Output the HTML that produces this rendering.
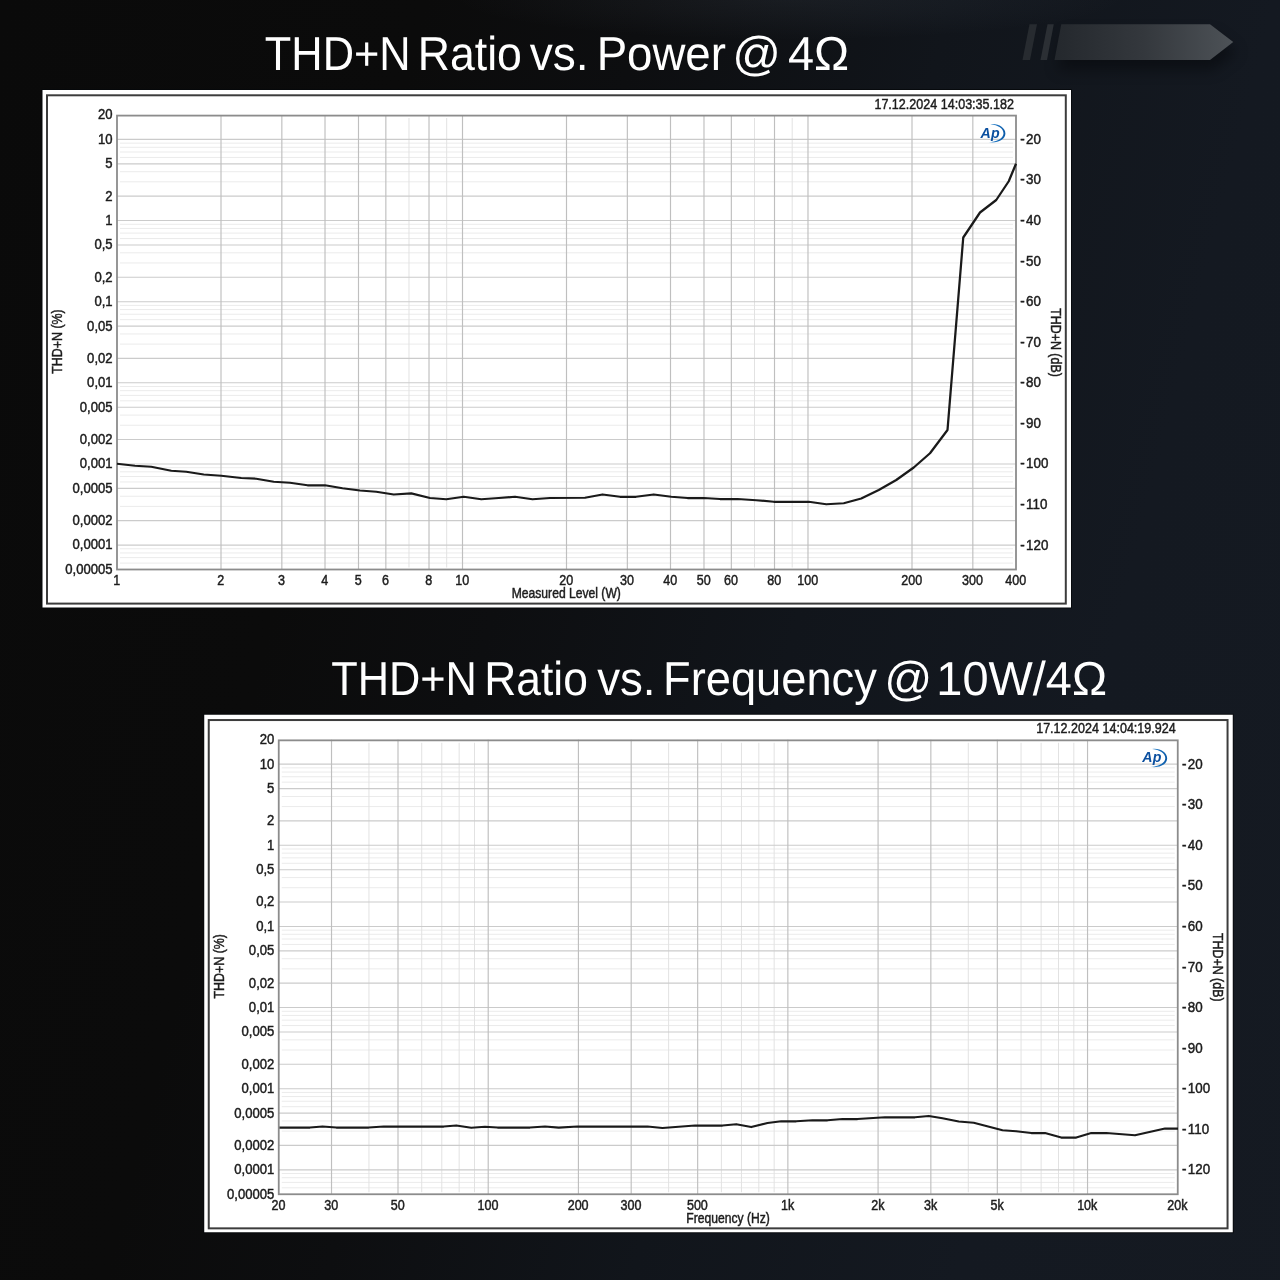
<!DOCTYPE html>
<html lang="en">
<head>
<meta charset="utf-8">
<title>THD+N measurements</title>
<style>
html,body{margin:0;padding:0;background:#0b0b0c;}
body{width:1280px;height:1280px;overflow:hidden;font-family:"Liberation Sans", sans-serif;}
svg{display:block;}
</style>
</head>
<body>
<svg width="1280" height="1280" viewBox="0 0 1280 1280">
<defs>
<linearGradient id="bg" gradientUnits="userSpaceOnUse" x1="0" y1="0" x2="1600" y2="400">
<stop offset="0" stop-color="#0a0a0a"/><stop offset="0.25" stop-color="#0b0b0b"/><stop offset="0.38" stop-color="#0d0e10"/><stop offset="0.56" stop-color="#11151b"/><stop offset="0.75" stop-color="#141921"/><stop offset="1" stop-color="#151a22"/>
</linearGradient>
<linearGradient id="ar" x1="0" y1="0" x2="1" y2="0">
<stop offset="0" stop-color="#24282d"/><stop offset="0.5" stop-color="#34383d"/><stop offset="1" stop-color="#4d5257"/>
</linearGradient>
<linearGradient id="apg" gradientUnits="userSpaceOnUse" x1="988" y1="0" x2="1006" y2="0"><stop offset="0" stop-color="#9ccbee"/><stop offset="0.35" stop-color="#1f78c4"/><stop offset="1" stop-color="#0a58a6"/></linearGradient>
<radialGradient id="glow" cx="0.5" cy="0.5" r="0.5"><stop offset="0" stop-color="#a0b2ca" stop-opacity="0.075"/><stop offset="0.5" stop-color="#a0b2ca" stop-opacity="0.04"/><stop offset="1" stop-color="#a0b2ca" stop-opacity="0"/></radialGradient>
<filter id="sh" color-interpolation-filters="sRGB" filterUnits="userSpaceOnUse" x="980" y="0" width="300" height="130"><feGaussianBlur stdDeviation="7"/></filter>
</defs>
<rect width="1280" height="1280" fill="url(#bg)"/>
<ellipse cx="790" cy="-4" rx="340" ry="44" fill="url(#glow)"/>
<path d="M1054.5 62L1061.25 26H1210L1233.5 44L1210 62Z" fill="#06080b" opacity="0.55" filter="url(#sh)" transform="translate(3 8)"/>
<path d="M1022.5 60L1029.5 24.25H1037L1030 60Z" fill="#272b30"/>
<path d="M1040.5 60L1047.5 24.25H1053.75L1047 60Z" fill="#2b2f34"/>
<path d="M1054.5 60L1061.25 24.25H1210L1233.25 42L1210 60Z" fill="url(#ar)"/>
<g font-family='"Liberation Sans", sans-serif' fill="#ffffff" text-rendering="geometricPrecision" font-size="47.7">
<text y="69.75"><tspan x="264.78" textLength="145.93" lengthAdjust="spacingAndGlyphs">THD+N</tspan> <tspan x="417.78" textLength="104.12" lengthAdjust="spacingAndGlyphs">Ratio</tspan> <tspan x="529.79" textLength="58.84" lengthAdjust="spacingAndGlyphs">vs.</tspan> <tspan x="596.64" textLength="129.22" lengthAdjust="spacingAndGlyphs">Power</tspan> <tspan x="732.28" textLength="48.72" lengthAdjust="spacingAndGlyphs">@</tspan> <tspan x="787.94" textLength="61.11" lengthAdjust="spacingAndGlyphs">4Ω</tspan></text>
<text y="694.75"><tspan x="331.18" textLength="145.75" lengthAdjust="spacingAndGlyphs">THD+N</tspan> <tspan x="484.23" textLength="103.65" lengthAdjust="spacingAndGlyphs">Ratio</tspan> <tspan x="597.17" textLength="58.36" lengthAdjust="spacingAndGlyphs">vs.</tspan> <tspan x="663.04" textLength="213.76" lengthAdjust="spacingAndGlyphs">Frequency</tspan> <tspan x="884.35" textLength="48.05" lengthAdjust="spacingAndGlyphs">@</tspan> <tspan x="936.29" textLength="170.78" lengthAdjust="spacingAndGlyphs">10W/4Ω</tspan></text>
</g>
<g transform="translate(0 0)">
<rect x="41.5" y="89" width="1030.5" height="519.5" fill="#05070a" opacity="0.8"/>
<rect x="42.5" y="90" width="1028.5" height="517.5" fill="#ffffff"/>
<rect x="47" y="95.3" width="1018.8" height="508.3" fill="none" stroke="#3c3c3c" stroke-width="2"/>
<path d="M120 563.08H1013M120 557.64H1013M120 552.94H1013M120 548.79H1013M120 506.37H1013M120 496.23H1013M120 481.95H1013M120 476.51H1013M120 471.81H1013M120 467.66H1013M120 425.24H1013M120 415.1H1013M120 400.81H1013M120 395.38H1013M120 390.68H1013M120 386.53H1013M120 344.11H1013M120 333.97H1013M120 319.68H1013M120 314.25H1013M120 309.55H1013M120 305.4H1013M120 262.98H1013M120 252.84H1013M120 238.55H1013M120 233.12H1013M120 228.42H1013M120 224.27H1013M120 181.84H1013M120 171.71H1013M120 157.42H1013M120 151.99H1013M120 147.29H1013M120 143.14H1013" stroke="#ebebeb" stroke-width="1" fill="none"/>
<path d="M408.98 118V567.5M446.69 118V567.5M754.47 118V567.5M792.18 118V567.5" stroke="#e2e2e2" stroke-width="1" fill="none"/>
<path d="M117 545.08H1016M117 520.65H1016M117 488.37H1016M117 463.95H1016M117 439.52H1016M117 407.24H1016M117 382.82H1016M117 358.39H1016M117 326.11H1016M117 301.68H1016M117 277.26H1016M117 244.98H1016M117 220.55H1016M117 196.13H1016M117 163.85H1016M117 139.42H1016" stroke="#cbcbcb" stroke-width="1.1" fill="none"/>
<path d="M221 115V569.5M281.84 115V569.5M325.01 115V569.5M358.49 115V569.5M385.85 115V569.5M429.01 115V569.5M462.5 115V569.5M566.5 115V569.5M627.34 115V569.5M670.5 115V569.5M703.99 115V569.5M731.34 115V569.5M774.51 115V569.5M807.99 115V569.5M912 115V569.5M972.83 115V569.5" stroke="#bfbfbf" stroke-width="1.15" fill="none"/>
<rect x="117" y="115.6" width="899" height="453.9" fill="none" stroke="#8c8c8c" stroke-width="1.8"/>
<polyline points="117,463.75 135,465.75 151.25,466.75 171.25,470.75 186.25,471.75 203.75,474.5 221.25,475.75 241.25,478 256.25,478.75 273.75,481.75 290,482.75 307.5,485.25 325,485.25 342.5,488.25 360,490.5 376.25,491.75 393.75,494.5 411.25,493.4 430,498 446.25,499.25 463.75,496.75 481.25,499.25 498.75,498 515,496.75 532.5,499.25 550,498 585,497.75 602.5,494.5 620,496.75 636,496.75 653.75,494.5 671.25,496.75 687.5,498 703.75,498 720,499 737.5,499 756.25,500.25 773.75,501.75 791.25,501.75 808.75,501.75 826.25,504.25 843.75,503.25 861.25,498.5 878.75,490 896.25,480 913.75,467.5 930,453.25 947.5,430 963.25,237.5 980,212.5 996.25,200 1008.75,181.25 1016,163.8" fill="none" stroke="#1a1a1a" stroke-width="2.25" stroke-linejoin="round" stroke-linecap="butt"/>
<g font-family='"Liberation Sans", sans-serif' font-size="13.8" fill="#1c1c1c" stroke="#1c1c1c" stroke-width="0.45">
<text transform="translate(112.6 119.4) scale(0.95 1)" text-anchor="end">20</text>
<text transform="translate(112.6 143.82) scale(0.95 1)" text-anchor="end">10</text>
<text transform="translate(112.6 168.25) scale(0.95 1)" text-anchor="end">5</text>
<text transform="translate(112.6 200.53) scale(0.95 1)" text-anchor="end">2</text>
<text transform="translate(112.6 224.95) scale(0.95 1)" text-anchor="end">1</text>
<text transform="translate(112.6 249.38) scale(0.95 1)" text-anchor="end">0,5</text>
<text transform="translate(112.6 281.66) scale(0.95 1)" text-anchor="end">0,2</text>
<text transform="translate(112.6 306.08) scale(0.95 1)" text-anchor="end">0,1</text>
<text transform="translate(112.6 330.51) scale(0.95 1)" text-anchor="end">0,05</text>
<text transform="translate(112.6 362.79) scale(0.95 1)" text-anchor="end">0,02</text>
<text transform="translate(112.6 387.22) scale(0.95 1)" text-anchor="end">0,01</text>
<text transform="translate(112.6 411.64) scale(0.95 1)" text-anchor="end">0,005</text>
<text transform="translate(112.6 443.92) scale(0.95 1)" text-anchor="end">0,002</text>
<text transform="translate(112.6 468.35) scale(0.95 1)" text-anchor="end">0,001</text>
<text transform="translate(112.6 492.77) scale(0.95 1)" text-anchor="end">0,0005</text>
<text transform="translate(112.6 525.05) scale(0.95 1)" text-anchor="end">0,0002</text>
<text transform="translate(112.6 549.48) scale(0.95 1)" text-anchor="end">0,0001</text>
<text transform="translate(112.6 573.9) scale(0.95 1)" text-anchor="end">0,00005</text>
<text transform="translate(1020.3 143.92) scale(0.97 1)">-<tspan dx="1.3">20</tspan></text>
<text transform="translate(1020.3 184.49) scale(0.97 1)">-<tspan dx="1.3">30</tspan></text>
<text transform="translate(1020.3 225.05) scale(0.97 1)">-<tspan dx="1.3">40</tspan></text>
<text transform="translate(1020.3 265.62) scale(0.97 1)">-<tspan dx="1.3">50</tspan></text>
<text transform="translate(1020.3 306.18) scale(0.97 1)">-<tspan dx="1.3">60</tspan></text>
<text transform="translate(1020.3 346.75) scale(0.97 1)">-<tspan dx="1.3">70</tspan></text>
<text transform="translate(1020.3 387.32) scale(0.97 1)">-<tspan dx="1.3">80</tspan></text>
<text transform="translate(1020.3 427.88) scale(0.97 1)">-<tspan dx="1.3">90</tspan></text>
<text transform="translate(1020.3 468.45) scale(0.97 1)">-<tspan dx="1.3">100</tspan></text>
<text transform="translate(1020.3 509.01) scale(0.97 1)">-<tspan dx="1.3">110</tspan></text>
<text transform="translate(1020.3 549.58) scale(0.97 1)">-<tspan dx="1.3">120</tspan></text>
<text transform="translate(116.7 585.1) scale(0.91 1)" text-anchor="middle">1</text>
<text transform="translate(220.7 585.1) scale(0.91 1)" text-anchor="middle">2</text>
<text transform="translate(281.54 585.1) scale(0.91 1)" text-anchor="middle">3</text>
<text transform="translate(324.71 585.1) scale(0.91 1)" text-anchor="middle">4</text>
<text transform="translate(358.19 585.1) scale(0.91 1)" text-anchor="middle">5</text>
<text transform="translate(385.55 585.1) scale(0.91 1)" text-anchor="middle">6</text>
<text transform="translate(428.71 585.1) scale(0.91 1)" text-anchor="middle">8</text>
<text transform="translate(462.2 585.1) scale(0.91 1)" text-anchor="middle">10</text>
<text transform="translate(566.2 585.1) scale(0.91 1)" text-anchor="middle">20</text>
<text transform="translate(627.04 585.1) scale(0.91 1)" text-anchor="middle">30</text>
<text transform="translate(670.2 585.1) scale(0.91 1)" text-anchor="middle">40</text>
<text transform="translate(703.69 585.1) scale(0.91 1)" text-anchor="middle">50</text>
<text transform="translate(731.04 585.1) scale(0.91 1)" text-anchor="middle">60</text>
<text transform="translate(774.21 585.1) scale(0.91 1)" text-anchor="middle">80</text>
<text transform="translate(807.69 585.1) scale(0.91 1)" text-anchor="middle">100</text>
<text transform="translate(911.7 585.1) scale(0.91 1)" text-anchor="middle">200</text>
<text transform="translate(972.53 585.1) scale(0.91 1)" text-anchor="middle">300</text>
<text transform="translate(1015.7 585.1) scale(0.91 1)" text-anchor="middle">400</text>
<text transform="translate(566.3 598.1) scale(0.88 1)" text-anchor="middle">Measured Level (W)</text>
<text transform="translate(1014 108.5) scale(0.91 1)" text-anchor="end">17.12.2024 14:03:35.182</text>
<text transform="translate(62 341.5) rotate(-90) scale(0.9 1)" text-anchor="middle">THD+N (%)</text>
<text transform="translate(1051 342.5) rotate(90) scale(0.9 1)" text-anchor="middle">THD+N (dB)</text>
</g>
<path d="M990.3 124.3C997.5 123 1005.5 127.4 1005.4 133.7C1005.3 139.8 997 143.6 988.6 142.1C996 142 1003.4 138.6 1003.5 133.5C1003.6 128.6 998 125 990.3 124.3Z" fill="url(#apg)"/><text x="980.6" y="137.6" font-family='"Liberation Sans", sans-serif' font-size="14.2" font-weight="700" font-style="italic" fill="#0b4f9f" letter-spacing="0.2">Ap</text>
</g>
<g transform="translate(161.75 624.75)">
<rect x="41.5" y="89" width="1030.5" height="519.5" fill="#05070a" opacity="0.8"/>
<rect x="42.5" y="90" width="1028.5" height="517.5" fill="#ffffff"/>
<rect x="47" y="95.3" width="1018.8" height="508.3" fill="none" stroke="#3c3c3c" stroke-width="2"/>
<path d="M120 563.08H1013M120 557.64H1013M120 552.94H1013M120 548.79H1013M120 506.37H1013M120 496.23H1013M120 481.95H1013M120 476.51H1013M120 471.81H1013M120 467.66H1013M120 425.24H1013M120 415.1H1013M120 400.81H1013M120 395.38H1013M120 390.68H1013M120 386.53H1013M120 344.11H1013M120 333.97H1013M120 319.68H1013M120 314.25H1013M120 309.55H1013M120 305.4H1013M120 262.98H1013M120 252.84H1013M120 238.55H1013M120 233.12H1013M120 228.42H1013M120 224.27H1013M120 181.84H1013M120 171.71H1013M120 157.42H1013M120 151.99H1013M120 147.29H1013M120 143.14H1013" stroke="#ebebeb" stroke-width="1" fill="none"/>
<path d="M207.21 118V567.5M259.98 118V567.5M280.04 118V567.5M297.42 118V567.5M312.75 118V567.5M506.88 118V567.5M559.64 118V567.5M579.71 118V567.5M597.08 118V567.5M612.41 118V567.5M806.54 118V567.5M859.31 118V567.5M879.37 118V567.5M896.75 118V567.5M912.08 118V567.5" stroke="#e2e2e2" stroke-width="1" fill="none"/>
<path d="M117 545.08H1016M117 520.65H1016M117 488.37H1016M117 463.95H1016M117 439.52H1016M117 407.24H1016M117 382.82H1016M117 358.39H1016M117 326.11H1016M117 301.68H1016M117 277.26H1016M117 244.98H1016M117 220.55H1016M117 196.13H1016M117 163.85H1016M117 139.42H1016" stroke="#cbcbcb" stroke-width="1.1" fill="none"/>
<path d="M169.77 115V569.5M236.25 115V569.5M326.46 115V569.5M416.67 115V569.5M469.44 115V569.5M535.92 115V569.5M626.12 115V569.5M716.33 115V569.5M769.1 115V569.5M835.58 115V569.5M925.79 115V569.5" stroke="#bfbfbf" stroke-width="1.15" fill="none"/>
<rect x="117" y="115.6" width="899" height="453.9" fill="none" stroke="#8c8c8c" stroke-width="1.8"/>
<polyline points="117.75,502.75 148.25,502.75 160.75,501.75 174.5,502.75 207,502.75 222,501.75 282,501.75 294.5,500.75 309.5,503 323.25,502 335.75,502.75 368.25,502.75 383.25,501.75 397,502.85 415.75,501.75 485.75,501.75 500.75,503.25 533.25,500.75 560.75,500.75 574.5,499.5 589.5,502.25 605.75,498.25 619.5,496.5 634.5,496.5 650.75,495.5 665.75,495.5 680.75,494.25 695.75,494.25 723.25,492.5 753.25,492.5 767,491.25 780.75,493.5 797,496.75 812,498 840.75,505.5 854.5,506.5 869.5,508.25 883.25,508.25 899.5,512.75 914.5,512.75 929.5,508.25 944.5,508.25 973.25,510.5 1003.25,503.75 1016.25,503.75" fill="none" stroke="#1a1a1a" stroke-width="2.25" stroke-linejoin="round" stroke-linecap="butt"/>
<g font-family='"Liberation Sans", sans-serif' font-size="13.8" fill="#1c1c1c" stroke="#1c1c1c" stroke-width="0.45">
<text transform="translate(112.6 119.4) scale(0.95 1)" text-anchor="end">20</text>
<text transform="translate(112.6 143.82) scale(0.95 1)" text-anchor="end">10</text>
<text transform="translate(112.6 168.25) scale(0.95 1)" text-anchor="end">5</text>
<text transform="translate(112.6 200.53) scale(0.95 1)" text-anchor="end">2</text>
<text transform="translate(112.6 224.95) scale(0.95 1)" text-anchor="end">1</text>
<text transform="translate(112.6 249.38) scale(0.95 1)" text-anchor="end">0,5</text>
<text transform="translate(112.6 281.66) scale(0.95 1)" text-anchor="end">0,2</text>
<text transform="translate(112.6 306.08) scale(0.95 1)" text-anchor="end">0,1</text>
<text transform="translate(112.6 330.51) scale(0.95 1)" text-anchor="end">0,05</text>
<text transform="translate(112.6 362.79) scale(0.95 1)" text-anchor="end">0,02</text>
<text transform="translate(112.6 387.22) scale(0.95 1)" text-anchor="end">0,01</text>
<text transform="translate(112.6 411.64) scale(0.95 1)" text-anchor="end">0,005</text>
<text transform="translate(112.6 443.92) scale(0.95 1)" text-anchor="end">0,002</text>
<text transform="translate(112.6 468.35) scale(0.95 1)" text-anchor="end">0,001</text>
<text transform="translate(112.6 492.77) scale(0.95 1)" text-anchor="end">0,0005</text>
<text transform="translate(112.6 525.05) scale(0.95 1)" text-anchor="end">0,0002</text>
<text transform="translate(112.6 549.48) scale(0.95 1)" text-anchor="end">0,0001</text>
<text transform="translate(112.6 573.9) scale(0.95 1)" text-anchor="end">0,00005</text>
<text transform="translate(1020.3 143.92) scale(0.97 1)">-<tspan dx="1.3">20</tspan></text>
<text transform="translate(1020.3 184.49) scale(0.97 1)">-<tspan dx="1.3">30</tspan></text>
<text transform="translate(1020.3 225.05) scale(0.97 1)">-<tspan dx="1.3">40</tspan></text>
<text transform="translate(1020.3 265.62) scale(0.97 1)">-<tspan dx="1.3">50</tspan></text>
<text transform="translate(1020.3 306.18) scale(0.97 1)">-<tspan dx="1.3">60</tspan></text>
<text transform="translate(1020.3 346.75) scale(0.97 1)">-<tspan dx="1.3">70</tspan></text>
<text transform="translate(1020.3 387.32) scale(0.97 1)">-<tspan dx="1.3">80</tspan></text>
<text transform="translate(1020.3 427.88) scale(0.97 1)">-<tspan dx="1.3">90</tspan></text>
<text transform="translate(1020.3 468.45) scale(0.97 1)">-<tspan dx="1.3">100</tspan></text>
<text transform="translate(1020.3 509.01) scale(0.97 1)">-<tspan dx="1.3">110</tspan></text>
<text transform="translate(1020.3 549.58) scale(0.97 1)">-<tspan dx="1.3">120</tspan></text>
<text transform="translate(116.7 585.1) scale(0.91 1)" text-anchor="middle">20</text>
<text transform="translate(169.47 585.1) scale(0.91 1)" text-anchor="middle">30</text>
<text transform="translate(235.95 585.1) scale(0.91 1)" text-anchor="middle">50</text>
<text transform="translate(326.16 585.1) scale(0.91 1)" text-anchor="middle">100</text>
<text transform="translate(416.37 585.1) scale(0.91 1)" text-anchor="middle">200</text>
<text transform="translate(469.14 585.1) scale(0.91 1)" text-anchor="middle">300</text>
<text transform="translate(535.62 585.1) scale(0.91 1)" text-anchor="middle">500</text>
<text transform="translate(625.82 585.1) scale(0.91 1)" text-anchor="middle">1k</text>
<text transform="translate(716.03 585.1) scale(0.91 1)" text-anchor="middle">2k</text>
<text transform="translate(768.8 585.1) scale(0.91 1)" text-anchor="middle">3k</text>
<text transform="translate(835.28 585.1) scale(0.91 1)" text-anchor="middle">5k</text>
<text transform="translate(925.49 585.1) scale(0.91 1)" text-anchor="middle">10k</text>
<text transform="translate(1015.7 585.1) scale(0.91 1)" text-anchor="middle">20k</text>
<text transform="translate(566.3 598.1) scale(0.88 1)" text-anchor="middle">Frequency (Hz)</text>
<text transform="translate(1014 108.5) scale(0.91 1)" text-anchor="end">17.12.2024 14:04:19.924</text>
<text transform="translate(62 341.5) rotate(-90) scale(0.9 1)" text-anchor="middle">THD+N (%)</text>
<text transform="translate(1051 342.5) rotate(90) scale(0.9 1)" text-anchor="middle">THD+N (dB)</text>
</g>
<path d="M990.3 124.3C997.5 123 1005.5 127.4 1005.4 133.7C1005.3 139.8 997 143.6 988.6 142.1C996 142 1003.4 138.6 1003.5 133.5C1003.6 128.6 998 125 990.3 124.3Z" fill="url(#apg)"/><text x="980.6" y="137.6" font-family='"Liberation Sans", sans-serif' font-size="14.2" font-weight="700" font-style="italic" fill="#0b4f9f" letter-spacing="0.2">Ap</text>
</g>
</svg>
</body>
</html>
